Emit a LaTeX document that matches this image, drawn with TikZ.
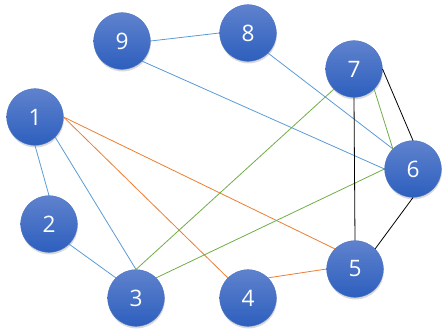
\documentclass[tikz,border=0pt]{standalone}
\usepackage{fontspec}
\setmainfont{Open Sans}
\usepackage{tikz}
\usetikzlibrary{shadows}
\definecolor{nodeTop}{RGB}{95, 130, 205}
\definecolor{nodeBot}{RGB}{45, 95, 190}
\definecolor{lnBlue}{RGB}{91, 155, 213}
\definecolor{lnOrange}{RGB}{237, 125, 49}
\definecolor{lnGreen}{RGB}{112, 173, 71}
\tikzset{
  vnode/.style={circle,minimum size=42.5pt,inner sep=0pt,
                top color=nodeTop,bottom color=nodeBot,
                draw=nodeTop!50!nodeBot,line width=0.3pt,
                drop shadow={opacity=0.3,shadow xshift=0.4pt,shadow yshift=-1.6pt},
                text=white,font=\fontsize{17}{20}\selectfont},
  eblue/.style={draw=lnBlue,line width=0.6pt},
  eorange/.style={draw=lnOrange,line width=0.6pt},
  egreen/.style={draw=lnGreen,line width=0.6pt},
  eblack/.style={draw=black,line width=0.6pt},
}
\begin{document}
\begin{tikzpicture}[x=0.75pt,y=-0.75pt]
        \useasboundingbox (0,0) rectangle (447,336);
        % centres, in pixels of the page
        \path (122,41) coordinate (p9) (248,33) coordinate (p8)
              (354,69) coordinate (p7) (35,117) coordinate (p1)
              (413,169) coordinate (p6) (49,224) coordinate (p2)
              (355,269) coordinate (p5) (136,298) coordinate (p3)
              (248,298) coordinate (p4);
        \node[vnode] (n9) at (p9) {9};
        \node[vnode] (n8) at (p8) {8};
        \node[vnode] (n7) at (p7) {7};
        \node[vnode] (n1) at (p1) {1};
        \node[vnode] (n6) at (p6) {6};
        \node[vnode] (n2) at (p2) {2};
        \node[vnode] (n5) at (p5) {5};
        \node[vnode] (n3) at (p3) {3};
        \node[vnode] (n4) at (p4) {4};
        \draw[eblue](n9.east)--(n8.west);
        \draw[eblue](n9.south east)--(n6.west);
        \draw[eblue](n8.south east)--(n6.north west);
        \draw[eblue](n1.south)--(n2.north);
        \draw[eblue](n1.south east)--(n3.north);
        \draw[eblue](n2.south east)--(n3.north west);
        \draw[eorange](n1.east)--(n5.north west);
        \draw[eorange](n1.east)--(n4.north west);
        \draw[eorange](n4.north east)--(n5.west);
        \draw[egreen](n7.south west)--(n3.north);
        \draw[egreen](n6.west)--(n3.north east);
        \draw[egreen](n7.south east)--(n6.north west);
        \draw[eblack](n7.east)--(n6.north);
        \draw[eblack](n7.south)--(n5.north);
        \draw[eblack](n6.south)--(n5.north east);
      \end{tikzpicture}
\end{document}
